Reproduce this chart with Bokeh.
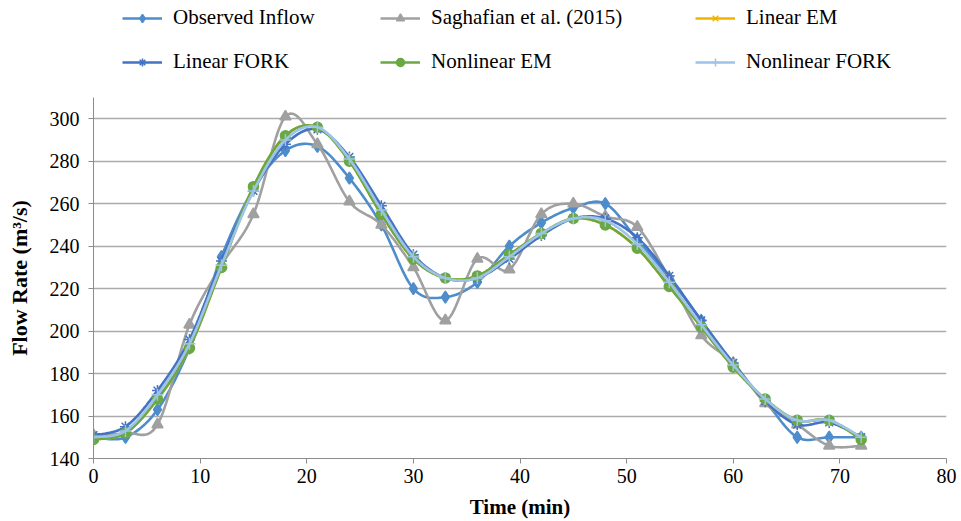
import numpy as np
from bokeh.plotting import figure
from bokeh.layouts import column
from bokeh.models import Legend, LegendItem, FixedTicker, Range1d, ColumnDataSource
from bokeh.embed import file_html
from bokeh.resources import INLINE

# ---- data ----
time_min = [0, 3, 6, 9, 12, 15, 18, 21, 24, 27, 30, 33, 36, 39, 42, 45, 48, 51, 54, 57, 60, 63, 66, 69, 72]
observed = [150, 150, 163, 192, 235, 267, 285, 287, 272, 250, 220, 216, 223, 240, 251, 258, 260, 243, 225, 205, 184, 167, 150, 150, 150]
saghafian = [151, 152, 156, 203, 231, 255, 301, 288, 261, 250, 230, 205, 234, 229, 255, 260, 254, 249, 225, 198, 185, 166, 156, 146, 146]
linear_em = [149, 152, 168, 192, 230, 268, 292, 296, 280, 255, 234, 225, 226, 236, 246, 253, 250, 239, 221, 202, 183, 168, 158, 158, 149]
linear_fork = [151, 155, 172, 196, 233, 266, 288, 295, 282, 259, 236, 225, 225, 234, 245, 253, 253, 244, 226, 205, 185, 167, 156, 157, 150]
nonlinear_em = [149, 152, 168, 192, 230, 268, 292, 296, 280, 255, 234, 225, 226, 236, 246, 253, 250, 239, 221, 202, 183, 168, 158, 158, 149]
nonlinear_fork = [150, 153, 170, 194, 231, 266, 290, 296, 281, 257, 235, 225, 225, 235, 246, 253, 252, 241, 223, 203, 184, 168, 158, 158, 150]

series_names = ["Observed Inflow", "Saghafian et al. (2015)", "Linear EM",
                "Linear FORK", "Nonlinear EM", "Nonlinear FORK"]
x_ticks = [0, 10, 20, 30, 40, 50, 60, 70, 80]
y_ticks = [140, 160, 180, 200, 220, 240, 260, 280, 300]

FONT = "Liberation Serif"
W, H_TOP, H_MAIN = 961, 97, 424


def smooth(xs, ys, n=18):
    pts = np.column_stack([xs, ys]).astype(float)
    P = np.vstack([pts[0], pts, pts[-1]])
    outx, outy = [], []
    m = len(pts) - 1
    for i in range(m):
        p0, p1, p2, p3 = P[i], P[i + 1], P[i + 2], P[i + 3]
        c1 = p1 + (p2 - p0) / 6.0
        c2 = p2 - (p3 - p1) / 6.0
        t = np.linspace(0, 1, n, endpoint=(i == m - 1))[:, None]
        b = ((1 - t) ** 3) * p1 + 3 * ((1 - t) ** 2) * t * c1 + 3 * (1 - t) * t ** 2 * c2 + t ** 3 * p2
        outx.extend(b[:, 0]); outy.extend(b[:, 1])
    return outx, outy


p = figure(width=W, height=H_MAIN, output_backend="svg", toolbar_location=None,
           x_range=Range1d(0, 80), y_range=Range1d(140, 310),
           min_border_left=93, min_border_right=15, min_border_top=0, min_border_bottom=60)
p.outline_line_color = None

p.xaxis.ticker = FixedTicker(ticks=x_ticks)
p.yaxis.ticker = FixedTicker(ticks=y_ticks)
for ax in (p.xaxis, p.yaxis):
    ax.axis_line_color = "#8C8C8C"
    ax.major_tick_line_color = "#8C8C8C"
    ax.major_tick_out = 5
    ax.major_tick_in = 0
    ax.minor_tick_line_color = None
    ax.major_label_text_font = FONT
    ax.major_label_text_font_size = "20px"
    ax.major_label_text_color = "black"
    ax.axis_label_text_font = FONT
    ax.axis_label_text_font_size = "21px"
    ax.axis_label_text_font_style = "bold"
    ax.axis_label_text_color = "black"
p.yaxis.axis_label_text_font_size = "22px"
p.xaxis.axis_label = "Time (min)"
p.yaxis.axis_label = "Flow Rate (m\u00b3/s)"
p.yaxis.major_label_standoff = 9
p.xaxis.major_label_standoff = 5
p.yaxis.axis_label_standoff = 15
p.xaxis.axis_label_standoff = 9

p.xgrid.grid_line_color = None
p.ygrid.grid_line_color = "#ABABAB"
p.ygrid.grid_line_width = 1.3
p.ygrid.ticker = FixedTicker(ticks=y_ticks)

colors = ["#4E8DCB", "#A0A0A0", "#F0B400", "#4472C4", "#6AA843", "#9DC3E6"]
markers = ["diamond", "triangle", "x", "asterisk", "circle", "cross"]
sizes = [12, 11, 10, 11, 10, 12]
data = [observed, saghafian, linear_em, linear_fork, nonlinear_em, nonlinear_fork]

# legend strip above the plot (its frame is aligned with the main plot's frame)
lf = figure(width=W, height=H_TOP, output_backend="svg", toolbar_location=None,
            x_range=Range1d(0, 1), y_range=Range1d(0, 1),
            x_axis_location=None, y_axis_location=None,
            min_border_left=93, min_border_right=15,
            min_border_top=0, min_border_bottom=0)
lf.outline_line_color = None
lf.xgrid.visible = False
lf.ygrid.visible = False

items = []
for name, ys, c, mk, sz in zip(series_names, data, colors, markers, sizes):
    sx, sy = smooth(time_min, ys)
    p.line(sx, sy, line_color=c, line_width=2.6)
    p.scatter(time_min, ys, marker=mk, size=sz, fill_color=c, line_color=c, line_width=1.5)
    # legend-only proxies (a single NaN point: nothing is drawn in the strip)
    proxy = ColumnDataSource(data=dict(x=[np.nan], y=[np.nan]))
    l1 = lf.line("x", "y", source=proxy, line_color=c, line_width=2.6)
    l2 = lf.scatter("x", "y", source=proxy, marker=mk, size=sz, fill_color=c, line_color=c, line_width=1.5)
    items.append(LegendItem(label=name, renderers=[l1, l2]))

cols = [(items[0], items[3]), (items[1], items[4]), (items[2], items[5])]
col_x = [122 - 93, 380 - 93, 695 - 93]
for (a, b), cx in zip(cols, col_x):
    lg = Legend(items=[a, b], location=(cx, 23), orientation="vertical",
                glyph_width=40, glyph_height=20, label_height=20, spacing=19,
                label_standoff=11, padding=0, margin=0, border_line_color=None,
                background_fill_alpha=0, label_text_font=FONT,
                label_text_font_size="21px", label_text_color="black")
    lf.add_layout(lg, "center")

layout = column(lf, p, spacing=0)
open("out.html", "w").write(file_html(layout, INLINE))
